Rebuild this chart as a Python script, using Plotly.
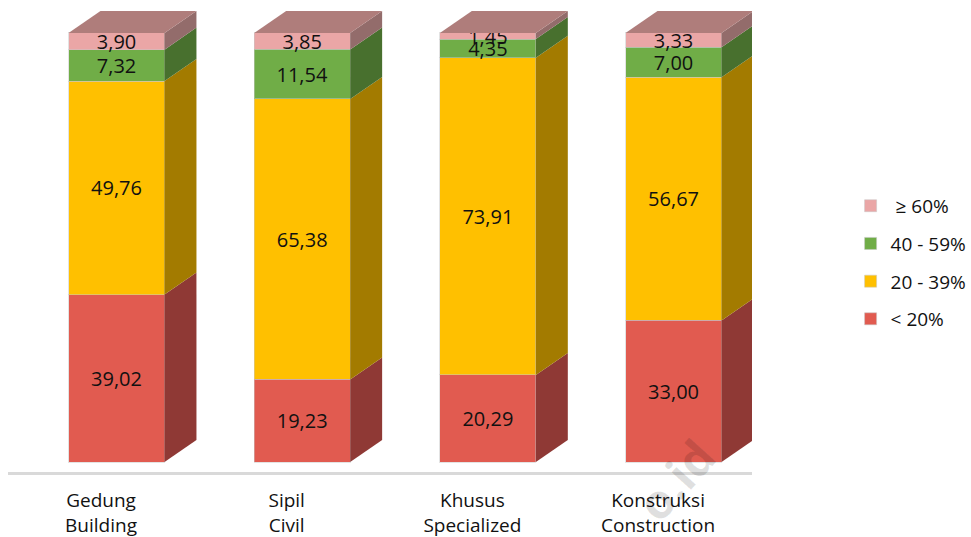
import plotly.graph_objects as go

categories = ["Gedung<br>Building", "Sipil<br>Civil", "Khusus<br>Specialized", "Konstruksi<br>Construction"]
below_20 = [39.02, 19.23, 20.29, 33.00]
from_20_39 = [49.76, 65.38, 73.91, 56.67]
from_40_59 = [7.32, 11.54, 4.35, 7.00]
above_60 = [3.90, 3.85, 1.45, 3.33]

series = [
    ("< 20%", below_20, "#E15B50", "#8F3935", 4),
    ("20 - 39%", from_20_39, "#FFC000", "#A37B00", 3),
    ("40 - 59%", from_40_59, "#70AD47", "#48702E", 2),
    ("\u00a0≥ 60%", above_60, "#EAA6A6", "#936C6B", 1),
]
TOP_COLOR = "#AF7D7B"
FONT = "Open Sans"

bar_shift = 0.0835
bar_w = 0.517
dx = 0.172
dy = 5.13
positions = list(range(len(categories)))
bar_x = [p + bar_shift for p in positions]

fig = go.Figure()
cum = [0.0] * len(categories)
for name, vals, color, side, rank in series:
    fig.add_trace(go.Bar(
        x=bar_x, y=vals, name=name, width=bar_w, legendgroup=name, legendrank=rank,
        marker=dict(color=color, line=dict(color="rgba(200,200,200,0.5)", width=1)),
        text=[f"{v:.2f}".replace(".", ",") for v in vals],
        textposition="inside", insidetextanchor="middle", textangle=0,
        constraintext="none", textfont=dict(family=FONT, size=20, color="#111"),
        hoverinfo="skip",
    ))
    for xc, base, v in zip(bar_x, cum, vals):
        r = xc + bar_w / 2
        fig.add_trace(go.Scatter(
            x=[r, r + dx, r + dx, r, r],
            y=[base, base + dy, base + v + dy, base + v, base],
            mode="lines", fill="toself", fillcolor=side, line=dict(width=0),
            showlegend=False, hoverinfo="skip", cliponaxis=False,
        ))
    cum = [c + v for c, v in zip(cum, vals)]

for xc, total in zip(bar_x, cum):
    l, r = xc - bar_w / 2, xc + bar_w / 2
    fig.add_trace(go.Scatter(
        x=[l, r, r + dx, l + dx, l],
        y=[total, total, total + dy, total + dy, total],
        mode="lines", fill="toself", fillcolor=TOP_COLOR, line=dict(width=0),
        showlegend=False, hoverinfo="skip", cliponaxis=False,
    ))

fig.update_layout(
    width=971, height=537, barmode="stack",
    margin=dict(l=8, r=219, t=5, b=65, autoexpand=False),
    paper_bgcolor="white", plot_bgcolor="white",
    font=dict(family=FONT, size=19, color="#111"),
    xaxis=dict(
        range=[-0.501, 3.506], tickvals=positions, ticktext=categories,
        showgrid=False, zeroline=False, showline=True, linecolor="#D9D9D9", linewidth=3,
        ticks="", tickfont=dict(family=FONT, size=19, color="#111"), ticklabelstandoff=9,
    ),
    yaxis=dict(range=[-2.33, 106.5], visible=False, showgrid=False, zeroline=False),
    legend=dict(
        xref="container", yref="container",
        x=0.876, y=0.652, xanchor="left", yanchor="top", traceorder="grouped",
        tracegroupgap=10, font=dict(family=FONT, size=19, color="#111"),
        itemclick=False, itemdoubleclick=False,
    ),
    showlegend=True,
    annotations=[dict(
        text="<b>o.id</b>", textangle=-48, xref="paper", yref="paper",
        x=0.897, y=-0.016, xanchor="center", yanchor="middle", showarrow=False,
        font=dict(family="Open Sans", size=48, color="rgba(0,0,0,0.12)"),
    )],
)

fig.write_html("out.html", config={"displayModeBar": False},
               post_script="document.body.style.margin='0';")
